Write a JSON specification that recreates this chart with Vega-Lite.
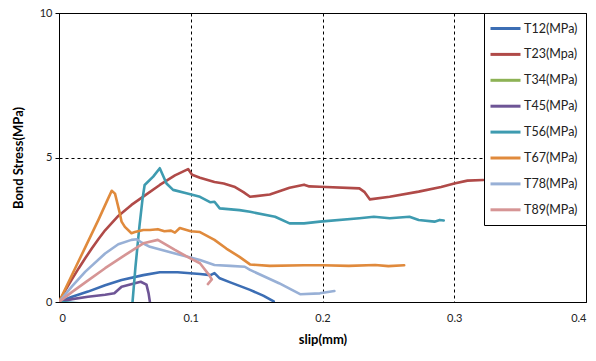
{
  "$schema": "https://vega.github.io/schema/vega-lite/v6.json",
  "autosize": {"type": "none"},
  "padding": {"left": 59, "top": 13, "right": 10, "bottom": 59},
  "width": 527,
  "height": 289,
  "background": "white",
  "config": {
    "view": {"stroke": "black", "strokeWidth": 1},
    "font": "Lato"
  },
  "datasets": {
    "curves": [
      {"s":"T12(MPa)","i":0,"x":0,"y":0},
      {"s":"T12(MPa)","i":1,"x":0.01,"y":0.18},
      {"s":"T12(MPa)","i":2,"x":0.022,"y":0.36},
      {"s":"T12(MPa)","i":3,"x":0.035,"y":0.58},
      {"s":"T12(MPa)","i":4,"x":0.0475,"y":0.76},
      {"s":"T12(MPa)","i":5,"x":0.064,"y":0.93},
      {"s":"T12(MPa)","i":6,"x":0.0765,"y":1.03},
      {"s":"T12(MPa)","i":7,"x":0.09,"y":1.03},
      {"s":"T12(MPa)","i":8,"x":0.107,"y":0.97},
      {"s":"T12(MPa)","i":9,"x":0.115,"y":0.93},
      {"s":"T12(MPa)","i":10,"x":0.118,"y":1.0},
      {"s":"T12(MPa)","i":11,"x":0.122,"y":0.82},
      {"s":"T12(MPa)","i":12,"x":0.13,"y":0.68},
      {"s":"T12(MPa)","i":13,"x":0.145,"y":0.42},
      {"s":"T12(MPa)","i":14,"x":0.155,"y":0.22},
      {"s":"T12(MPa)","i":15,"x":0.163,"y":0.02},

      {"s":"T23(Mpa)","i":0,"x":0,"y":0},
      {"s":"T23(Mpa)","i":1,"x":0.005,"y":0.42},
      {"s":"T23(Mpa)","i":2,"x":0.01,"y":0.8},
      {"s":"T23(Mpa)","i":3,"x":0.015,"y":1.17},
      {"s":"T23(Mpa)","i":4,"x":0.02,"y":1.52},
      {"s":"T23(Mpa)","i":5,"x":0.025,"y":1.86},
      {"s":"T23(Mpa)","i":6,"x":0.03,"y":2.18},
      {"s":"T23(Mpa)","i":7,"x":0.035,"y":2.48},
      {"s":"T23(Mpa)","i":8,"x":0.045,"y":2.98},
      {"s":"T23(Mpa)","i":9,"x":0.055,"y":3.36},
      {"s":"T23(Mpa)","i":10,"x":0.065,"y":3.68},
      {"s":"T23(Mpa)","i":11,"x":0.0765,"y":4.05},
      {"s":"T23(Mpa)","i":12,"x":0.088,"y":4.38},
      {"s":"T23(Mpa)","i":13,"x":0.098,"y":4.6},
      {"s":"T23(Mpa)","i":14,"x":0.101,"y":4.4},
      {"s":"T23(Mpa)","i":15,"x":0.107,"y":4.3},
      {"s":"T23(Mpa)","i":16,"x":0.118,"y":4.15},
      {"s":"T23(Mpa)","i":17,"x":0.125,"y":4.1},
      {"s":"T23(Mpa)","i":18,"x":0.133,"y":3.99},
      {"s":"T23(Mpa)","i":19,"x":0.14,"y":3.8},
      {"s":"T23(Mpa)","i":20,"x":0.145,"y":3.64},
      {"s":"T23(Mpa)","i":21,"x":0.16,"y":3.72},
      {"s":"T23(Mpa)","i":22,"x":0.175,"y":3.95},
      {"s":"T23(Mpa)","i":23,"x":0.186,"y":4.06},
      {"s":"T23(Mpa)","i":24,"x":0.19,"y":4.0},
      {"s":"T23(Mpa)","i":25,"x":0.198,"y":3.99},
      {"s":"T23(Mpa)","i":26,"x":0.228,"y":3.93},
      {"s":"T23(Mpa)","i":27,"x":0.232,"y":3.8},
      {"s":"T23(Mpa)","i":28,"x":0.236,"y":3.55},
      {"s":"T23(Mpa)","i":29,"x":0.251,"y":3.64},
      {"s":"T23(Mpa)","i":30,"x":0.273,"y":3.82},
      {"s":"T23(Mpa)","i":31,"x":0.29,"y":3.98},
      {"s":"T23(Mpa)","i":32,"x":0.3,"y":4.1},
      {"s":"T23(Mpa)","i":33,"x":0.31,"y":4.2},
      {"s":"T23(Mpa)","i":34,"x":0.322,"y":4.22},

      {"s":"T45(MPa)","i":0,"x":0,"y":0},
      {"s":"T45(MPa)","i":1,"x":0.01,"y":0.1},
      {"s":"T45(MPa)","i":2,"x":0.022,"y":0.18},
      {"s":"T45(MPa)","i":3,"x":0.035,"y":0.25},
      {"s":"T45(MPa)","i":4,"x":0.042,"y":0.3},
      {"s":"T45(MPa)","i":5,"x":0.0475,"y":0.53},
      {"s":"T45(MPa)","i":6,"x":0.0576,"y":0.65},
      {"s":"T45(MPa)","i":7,"x":0.062,"y":0.7},
      {"s":"T45(MPa)","i":8,"x":0.0664,"y":0.6},
      {"s":"T45(MPa)","i":9,"x":0.068,"y":0.3},
      {"s":"T45(MPa)","i":10,"x":0.069,"y":0},

      {"s":"T56(MPa)","i":0,"x":0,"y":0},
      {"s":"T56(MPa)","i":1,"x":0.017,"y":-0.05},
      {"s":"T56(MPa)","i":2,"x":0.03,"y":-0.6},
      {"s":"T56(MPa)","i":3,"x":0.055,"y":-0.6},
      {"s":"T56(MPa)","i":4,"x":0.0558,"y":0},
      {"s":"T56(MPa)","i":5,"x":0.058,"y":1.2},
      {"s":"T56(MPa)","i":6,"x":0.061,"y":2.6},
      {"s":"T56(MPa)","i":7,"x":0.0635,"y":3.6},
      {"s":"T56(MPa)","i":8,"x":0.065,"y":4.05},
      {"s":"T56(MPa)","i":9,"x":0.0715,"y":4.34},
      {"s":"T56(MPa)","i":10,"x":0.0765,"y":4.63},
      {"s":"T56(MPa)","i":11,"x":0.0816,"y":4.1},
      {"s":"T56(MPa)","i":12,"x":0.0866,"y":3.88},
      {"s":"T56(MPa)","i":13,"x":0.0967,"y":3.76},
      {"s":"T56(MPa)","i":14,"x":0.107,"y":3.64},
      {"s":"T56(MPa)","i":15,"x":0.115,"y":3.45},
      {"s":"T56(MPa)","i":16,"x":0.118,"y":3.47},
      {"s":"T56(MPa)","i":17,"x":0.122,"y":3.24},
      {"s":"T56(MPa)","i":18,"x":0.137,"y":3.18},
      {"s":"T56(MPa)","i":19,"x":0.145,"y":3.12},
      {"s":"T56(MPa)","i":20,"x":0.164,"y":2.95},
      {"s":"T56(MPa)","i":21,"x":0.175,"y":2.72},
      {"s":"T56(MPa)","i":22,"x":0.186,"y":2.72},
      {"s":"T56(MPa)","i":23,"x":0.198,"y":2.78},
      {"s":"T56(MPa)","i":24,"x":0.228,"y":2.9},
      {"s":"T56(MPa)","i":25,"x":0.239,"y":2.95},
      {"s":"T56(MPa)","i":26,"x":0.251,"y":2.9},
      {"s":"T56(MPa)","i":27,"x":0.266,"y":2.95},
      {"s":"T56(MPa)","i":28,"x":0.273,"y":2.84},
      {"s":"T56(MPa)","i":29,"x":0.285,"y":2.78},
      {"s":"T56(MPa)","i":30,"x":0.289,"y":2.84},
      {"s":"T56(MPa)","i":31,"x":0.292,"y":2.82},

      {"s":"T67(MPa)","i":0,"x":0,"y":0},
      {"s":"T67(MPa)","i":1,"x":0.01,"y":0.95},
      {"s":"T67(MPa)","i":2,"x":0.02,"y":1.9},
      {"s":"T67(MPa)","i":3,"x":0.03,"y":2.85},
      {"s":"T67(MPa)","i":4,"x":0.037,"y":3.55},
      {"s":"T67(MPa)","i":5,"x":0.04,"y":3.85},
      {"s":"T67(MPa)","i":6,"x":0.0425,"y":3.75},
      {"s":"T67(MPa)","i":7,"x":0.0437,"y":3.53},
      {"s":"T67(MPa)","i":8,"x":0.046,"y":3.1},
      {"s":"T67(MPa)","i":9,"x":0.0475,"y":2.78},
      {"s":"T67(MPa)","i":10,"x":0.05,"y":2.6},
      {"s":"T67(MPa)","i":11,"x":0.055,"y":2.38},
      {"s":"T67(MPa)","i":12,"x":0.0576,"y":2.42},
      {"s":"T67(MPa)","i":13,"x":0.064,"y":2.49},
      {"s":"T67(MPa)","i":14,"x":0.069,"y":2.49},
      {"s":"T67(MPa)","i":15,"x":0.075,"y":2.52},
      {"s":"T67(MPa)","i":16,"x":0.08,"y":2.45},
      {"s":"T67(MPa)","i":17,"x":0.085,"y":2.47},
      {"s":"T67(MPa)","i":18,"x":0.088,"y":2.4},
      {"s":"T67(MPa)","i":19,"x":0.0917,"y":2.56},
      {"s":"T67(MPa)","i":20,"x":0.1,"y":2.45},
      {"s":"T67(MPa)","i":21,"x":0.107,"y":2.42},
      {"s":"T67(MPa)","i":22,"x":0.118,"y":2.15},
      {"s":"T67(MPa)","i":23,"x":0.127,"y":1.85},
      {"s":"T67(MPa)","i":24,"x":0.137,"y":1.56},
      {"s":"T67(MPa)","i":25,"x":0.145,"y":1.3},
      {"s":"T67(MPa)","i":26,"x":0.16,"y":1.25},
      {"s":"T67(MPa)","i":27,"x":0.186,"y":1.27},
      {"s":"T67(MPa)","i":28,"x":0.2,"y":1.27},
      {"s":"T67(MPa)","i":29,"x":0.22,"y":1.25},
      {"s":"T67(MPa)","i":30,"x":0.24,"y":1.28},
      {"s":"T67(MPa)","i":31,"x":0.25,"y":1.24},
      {"s":"T67(MPa)","i":32,"x":0.262,"y":1.27},

      {"s":"T78(MPa)","i":0,"x":0,"y":0},
      {"s":"T78(MPa)","i":1,"x":0.01,"y":0.55},
      {"s":"T78(MPa)","i":2,"x":0.02,"y":1.05},
      {"s":"T78(MPa)","i":3,"x":0.035,"y":1.68},
      {"s":"T78(MPa)","i":4,"x":0.045,"y":2.0},
      {"s":"T78(MPa)","i":5,"x":0.055,"y":2.15},
      {"s":"T78(MPa)","i":6,"x":0.059,"y":2.17},
      {"s":"T78(MPa)","i":7,"x":0.063,"y":2.05},
      {"s":"T78(MPa)","i":8,"x":0.069,"y":1.91},
      {"s":"T78(MPa)","i":9,"x":0.088,"y":1.68},
      {"s":"T78(MPa)","i":10,"x":0.107,"y":1.45},
      {"s":"T78(MPa)","i":11,"x":0.118,"y":1.28},
      {"s":"T78(MPa)","i":12,"x":0.13,"y":1.25},
      {"s":"T78(MPa)","i":13,"x":0.141,"y":1.22},
      {"s":"T78(MPa)","i":14,"x":0.145,"y":1.11},
      {"s":"T78(MPa)","i":15,"x":0.167,"y":0.65},
      {"s":"T78(MPa)","i":16,"x":0.183,"y":0.27},
      {"s":"T78(MPa)","i":17,"x":0.198,"y":0.3},
      {"s":"T78(MPa)","i":18,"x":0.209,"y":0.38},

      {"s":"T89(MPa)","i":0,"x":0,"y":0},
      {"s":"T89(MPa)","i":1,"x":0.01,"y":0.35},
      {"s":"T89(MPa)","i":2,"x":0.02,"y":0.68},
      {"s":"T89(MPa)","i":3,"x":0.035,"y":1.17},
      {"s":"T89(MPa)","i":4,"x":0.05,"y":1.62},
      {"s":"T89(MPa)","i":5,"x":0.064,"y":2.03},
      {"s":"T89(MPa)","i":6,"x":0.075,"y":2.15},
      {"s":"T89(MPa)","i":7,"x":0.088,"y":1.8},
      {"s":"T89(MPa)","i":8,"x":0.1,"y":1.5},
      {"s":"T89(MPa)","i":9,"x":0.107,"y":1.34},
      {"s":"T89(MPa)","i":10,"x":0.114,"y":0.93},
      {"s":"T89(MPa)","i":11,"x":0.116,"y":0.78},
      {"s":"T89(MPa)","i":12,"x":0.113,"y":0.62}
    ]
  },
  "data": {"name": "curves"},
  "mark": {"type": "line", "strokeWidth": 2.6, "clip": true, "strokeCap": "round", "strokeJoin": "round"},
  "encoding": {
    "x": {
      "field": "x", "type": "quantitative",
      "scale": {"domain": [0, 0.4], "nice": false, "zero": false},
      "axis": {
        "title": "slip(mm)", "values": [0, 0.1, 0.2, 0.3, 0.4], "format": "~g",
        "grid": true, "gridColor": "black", "gridDash": [3, 3], "gridOpacity": 1,
        "ticks": false, "domainColor": "black",
        "labelFontSize": 11, "labelColor": "#222", "labelPadding": 10,
        "titleFontSize": 13, "titleFontWeight": "bold", "titleColor": "black", "titlePadding": 10
      }
    },
    "y": {
      "field": "y", "type": "quantitative",
      "scale": {"domain": [0, 10], "nice": false, "zero": false},
      "axis": {
        "title": "Bond Stress(MPa)", "values": [0, 5, 10],
        "grid": true, "gridColor": "black", "gridDash": [3, 3], "gridOpacity": 1,
        "ticks": true, "tickSize": 4, "tickColor": "black", "domainColor": "black",
        "labelFontSize": 11, "labelColor": "#222", "labelPadding": 3,
        "titleFontSize": 13, "titleFontWeight": "bold", "titleColor": "black", "titlePadding": 14
      }
    },
    "color": {
      "field": "s", "type": "nominal",
      "scale": {
        "domain": ["T12(MPa)", "T23(Mpa)", "T34(MPa)", "T45(MPa)", "T56(MPa)", "T67(MPa)", "T78(MPa)", "T89(MPa)"],
        "range": ["#3C6EB4", "#B04A48", "#8DB255", "#6E5596", "#3E9BB0", "#E08A3C", "#98B0D6", "#D69595"]
      },
      "legend": {
        "title": null, "orient": "none", "legendX": 425, "legendY": 0,
        "symbolType": "M-1.5,0L3.5,0", "symbolSize": 144, "symbolStrokeWidth": 3,
        "padding": 8, "rowPadding": 11.9, "labelOffset": 17,
        "strokeColor": "black", "fillColor": "white",
        "labelFontSize": 12.5, "labelFont": "Lato", "labelColor": "#222"
      }
    },
    "order": {"field": "i", "type": "quantitative"}
  }
}
